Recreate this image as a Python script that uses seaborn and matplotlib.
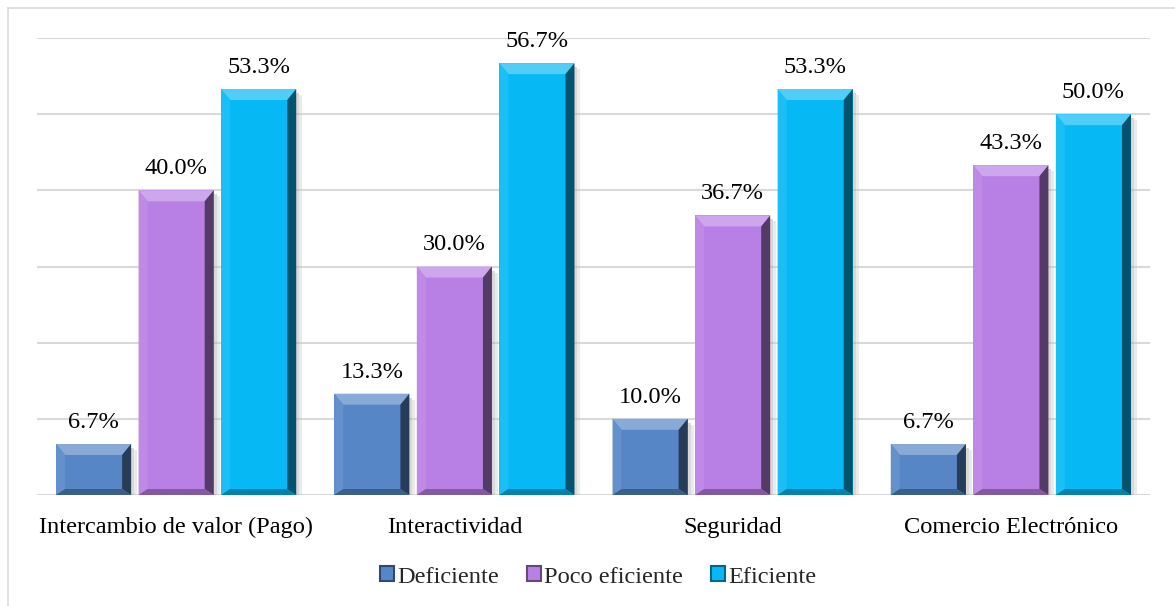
import numpy as np
import pandas as pd
import matplotlib
matplotlib.use("Agg")
import matplotlib.pyplot as plt
import seaborn as sns
from matplotlib.patches import Polygon, Rectangle
from matplotlib.lines import Line2D
from matplotlib.colors import to_rgb

categories = ["Intercambio de valor (Pago)", "Interactividad", "Seguridad", "Comercio Electrónico"]
series_names = ["Deficiente", "Poco eficiente", "Eficiente"]
deficiente = [6.7, 13.3, 10.0, 6.7]
poco_eficiente = [40.0, 30.0, 36.7, 43.3]
eficiente = [53.3, 56.7, 53.3, 50.0]
colors = ["#5686C6", "#B880E4", "#06B9F5"]

rows = []
for name, vals in zip(series_names, [deficiente, poco_eficiente, eficiente]):
    for c, v in zip(categories, vals):
        rows.append({"Categoria": c, "Serie": name, "Valor": v})
df = pd.DataFrame(rows)

sns.set_theme(style="white")
plt.rcParams["font.family"] = ["Liberation Serif", "DejaVu Serif"]
FS = 17.6

fig = plt.figure(figsize=(11.75, 6.06), dpi=100)
W, H = 1175, 606
ax = fig.add_axes([37 / W, 1 - 495 / H, (1150 - 37) / W, (495 - 38) / H])

sns.barplot(data=df, x="Categoria", y="Valor", hue="Serie", order=categories,
            hue_order=series_names, palette=colors, width=0.89, gap=0.09,
            ax=ax, legend=False, saturation=1, linewidth=0, zorder=3)

ax.set_ylim(0, 60)
ax.set_yticks(np.arange(0, 61, 10))
ax.set_yticklabels([])
ax.tick_params(axis="y", length=0)
ax.grid(axis="y", color="#D9D9D9", linewidth=1.5, zorder=0)
ax.set_axisbelow(True)
for s in ax.spines.values():
    s.set_visible(False)
ax.set_xlabel("")
ax.set_ylabel("")
ax.tick_params(axis="x", length=0, pad=16, labelsize=FS, labelcolor="#000000")

fig.canvas.draw()
xl = ax.get_xlim()
bbox = ax.get_window_extent()
px_x = (xl[1] - xl[0]) / bbox.width
px_y = 60 / bbox.height
bx = 9
bt = 11
bb = 6


def mix(c, t, amt):
    c = np.array(to_rgb(c)); t = np.array(to_rgb(t))
    return tuple(c * (1 - amt) + t * amt)


for cont, col in zip(ax.containers, colors):
    for p in cont.patches:
        x, y, w, h = p.get_x(), p.get_y(), p.get_width(), p.get_height()
        dx = bx * px_x
        dyt = min(bt * px_y, h / 2)
        dyb = min(bb * px_y, h / 3)
        # soft shadow on the right
        ax.add_patch(Rectangle((x + w, y), 3 * px_x, h - 4 * px_y, color="#AAAAAA",
                               alpha=0.45, zorder=2, linewidth=0))
        ax.add_patch(Rectangle((x + w + 3 * px_x, y), 3 * px_x, h - 6 * px_y, color="#CCCCCC",
                               alpha=0.4, zorder=2, linewidth=0))
        polys = [
            ([(x, y + h), (x + w, y + h), (x + w - dx, y + h - dyt), (x + dx, y + h - dyt)], mix(col, "white", 0.3)),
            ([(x, y), (x, y + h), (x + dx, y + h - dyt), (x + dx, y + dyb)], mix(col, "white", 0.08)),
            ([(x + w, y), (x + w, y + h), (x + w - dx, y + h - dyt), (x + w - dx, y + dyb)], mix(col, "black", 0.55)),
            ([(x, y), (x + w, y), (x + w - dx, y + dyb), (x + dx, y + dyb)], mix(col, "black", 0.3)),
        ]
        for pts, c in polys:
            ax.add_patch(Polygon(pts, closed=True, facecolor=c, edgecolor="none", zorder=4))
    ax.bar_label(cont, labels=[f"{p.get_height():.1f}%" for p in cont.patches],
                 padding=8, fontsize=FS, color="#000000", zorder=5)

handles = [Rectangle((0, 0), 1, 1, facecolor=c, edgecolor=mix(c, "black", 0.45), linewidth=1.5)
           for c in colors]
fig.legend(handles, series_names, loc="center", bbox_to_anchor=(0.5 + 11 / W, 1 - 577 / H),
           ncol=3, frameon=False, fontsize=FS, handlelength=0.55, handleheight=0.55,
           handletextpad=0.15, columnspacing=1.15, borderaxespad=0)

fig.add_artist(Line2D([8 / W, 1], [1 - 8 / H, 1 - 8 / H], color="#D9D9D9", linewidth=1.2,
                      transform=fig.transFigure))
fig.add_artist(Line2D([8 / W, 8 / W], [0, 1 - 8 / H], color="#D9D9D9", linewidth=1.2,
                      transform=fig.transFigure))

fig.savefig("out.png", dpi=100, facecolor="white")
